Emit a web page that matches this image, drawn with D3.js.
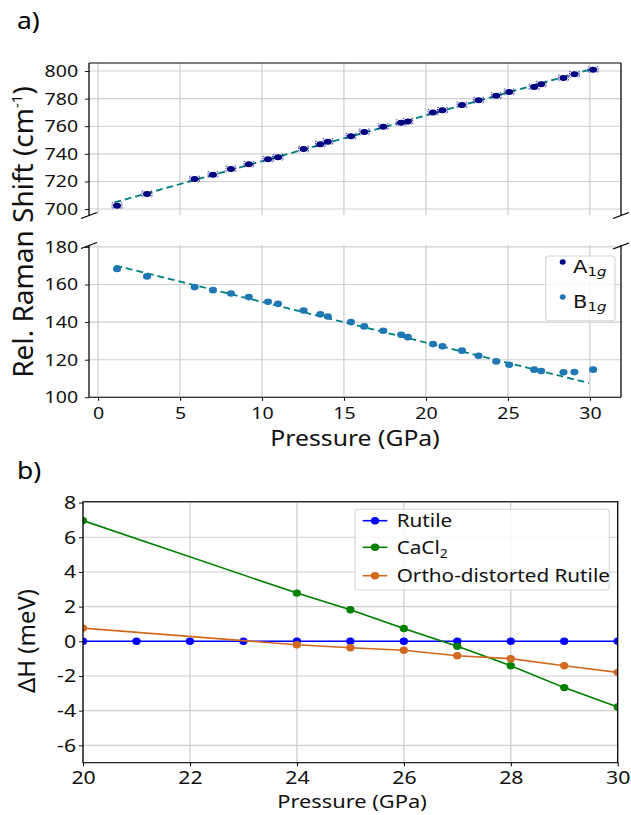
<!DOCTYPE html>
<html><head><meta charset="utf-8">
<script src="https://cdn.jsdelivr.net/npm/d3@7"></script>
<style>
body{margin:0;background:#fff}
svg{display:block}
</style>
</head><body><svg id="chart"></svg>
<script>
// panel a: Raman shifts vs pressure
const pressureA = [1.16, 2.99, 5.89, 7.01, 8.11, 9.2, 10.37, 10.98, 12.54, 13.56, 14.02, 15.43, 16.24, 17.4, 18.49, 18.9, 20.43, 21.01, 22.2, 23.21, 24.29, 25.08, 26.6, 27.03, 28.39, 29.06, 30.2];
const a1g = [702.4, 710.9, 721.7, 724.9, 729, 732.4, 736, 737.5, 743.5, 746.9, 748.8, 752.7, 755.8, 759.6, 762.5, 763.5, 770, 771.5, 775.4, 778.8, 782.1, 784.8, 788.4, 790.4, 794.9, 797.6, 800.9];
const b1g = [168.3, 164.3, 158.6, 157.0, 155.2, 153.3, 150.8, 149.7, 146.2, 144.2, 143.0, 140.0, 137.7, 135.4, 133.3, 132.0, 128.3, 127.1, 124.8, 122.1, 119.1, 117.3, 114.7, 114.0, 113.3, 113.4, 114.7];
const a1gErrP = 0.3;
// linear fits, endpoints
const a1gFitP = [1.0, 30.3], a1gFitV = [704.8, 802.0];
const b1gFitP = [1.06, 29.94], b1gFitV = [170.1, 107.6];
const ticksA_x = [0, 5, 10, 15, 20, 25, 30];
const ticksA_top = [700, 720, 740, 760, 780, 800];
const ticksA_bot = [100, 120, 140, 160, 180];

// panel b: enthalpy differences
const pressureB = [20, 21, 22, 23, 24, 25, 26, 27, 28, 29, 30];
const rutile = [0, 0, 0, 0, 0, 0, 0, 0, 0, 0, 0];
const pressureB2 = [20, 24, 25, 26, 27, 28, 29, 30];
const cacl2 = [6.96, 2.78, 1.82, 0.74, -0.29, -1.41, -2.67, -3.79];
const ortho = [0.76, -0.2, -0.37, -0.52, -0.83, -1.0, -1.41, -1.79];
const ticksB_x = [20, 22, 24, 26, 28, 30];
const ticksB_y = [-6, -4, -2, 0, 2, 4, 6, 8];

const W = 631, H = 815;
const SX = 1.15;   // picture is stretched sideways
const X = v => v / SX;
const FONT = "'Noto Sans', sans-serif";
const GRID = "#cfcfcf";

const svg = d3.select("#chart").attr("width", W).attr("height", H);
svg.append("rect").attr("width", W).attr("height", H).attr("fill", "#fff");
const g = svg.append("g").attr("transform", `scale(${SX},1)`);

function styleAxis(sel, size) {
	sel.select(".domain").remove();
	sel.selectAll(".tick line").attr("stroke", "#000").attr("stroke-width", 0.9);
	sel.selectAll(".tick text").attr("font-size", size).attr("font-family", FONT).attr("fill", "#111");
}

// ---------- panel a ----------
const xA = d3.scaleLinear().domain([-0.55, 31.9]).range([X(89), X(621)]);
const yTop = d3.scaleLinear().domain([695.7, 805.8]).range([215, 63]);
const yBot = d3.scaleLinear().domain([100, 181]).range([397.3, 245]);

g.append("text").attr("x", X(17)).attr("y", 29).attr("font-size", 23).attr("font-family", FONT).text("a)");

[[yTop, ticksA_top], [yBot, ticksA_bot]].forEach(([y, ticks]) => {
	const [b, t] = y.range();
	g.append("g").selectAll("line").data(ticksA_x).join("line")
		.attr("x1", d => xA(d)).attr("x2", d => xA(d)).attr("y1", t).attr("y2", b)
		.attr("stroke", GRID).attr("stroke-width", 1.1);
	g.append("g").selectAll("line").data(ticks).join("line")
		.attr("x1", xA.range()[0]).attr("x2", xA.range()[1]).attr("y1", d => y(d)).attr("y2", d => y(d))
		.attr("stroke", GRID).attr("stroke-width", 1.1);
});

// fits
g.append("path")
	.attr("d", d3.line()(a1gFitP.map((p, i) => [xA(p), yTop(a1gFitV[i])])))
	.attr("fill", "none").attr("stroke", "#008080").attr("stroke-width", 1.8).attr("stroke-dasharray", "6,3.5");
g.append("path")
	.attr("d", d3.line()(b1gFitP.map((p, i) => [xA(p), yBot(b1gFitV[i])])))
	.attr("fill", "none").attr("stroke", "#008080").attr("stroke-width", 1.8).attr("stroke-dasharray", "6,3.5");

// A1g error caps + points
g.append("g").selectAll("path").data(pressureA).join("path")
	.attr("d", (p, i) => {
		const y = yTop(a1g[i]), l = xA(p - a1gErrP), r = xA(p + a1gErrP);
		return `M${l + 1},${y - 3}H${l}V${y + 3}H${l + 1}M${r - 1},${y - 3}H${r}V${y + 3}H${r - 1}`;
	})
	.attr("fill", "none").attr("stroke", "#000080").attr("stroke-width", 0.7).attr("stroke-dasharray", "1.5,1");
g.append("g").selectAll("ellipse").data(pressureA).join("ellipse")
	.attr("cx", d => xA(d)).attr("cy", (d, i) => yTop(a1g[i]))
	.attr("rx", 3.5).attr("ry", 3.0).attr("fill", "#000080");
g.append("g").selectAll("ellipse").data(pressureA).join("ellipse")
	.attr("cx", d => xA(d)).attr("cy", (d, i) => yBot(b1g[i]))
	.attr("rx", 3.5).attr("ry", 3.3).attr("fill", "#1f77b4");

// axes a
g.append("g").attr("transform", `translate(${X(89)},0)`)
	.call(d3.axisLeft(yTop).tickValues(ticksA_top).tickSize(3.5).tickPadding(6))
	.call(s => styleAxis(s, 17));
g.append("g").attr("transform", `translate(${X(89)},0)`)
	.call(d3.axisLeft(yBot).tickValues(ticksA_bot).tickSize(3.5).tickPadding(6))
	.call(s => styleAxis(s, 17));
g.append("g").attr("transform", `translate(0,397.3)`)
	.call(d3.axisBottom(xA).tickValues(ticksA_x).tickSize(3.5).tickPadding(6.5))
	.call(s => styleAxis(s, 17));

// spines a
const spine = (x1, y1, x2, y2) => g.append("line")
	.attr("x1", x1).attr("y1", y1).attr("x2", x2).attr("y2", y2)
	.attr("stroke", "#000").attr("stroke-width", 1.1);
spine(X(89), 63, X(621), 63);
spine(X(89), 63, X(89), 215);
spine(X(621), 63, X(621), 215);
spine(X(89), 245, X(89), 397.3);
spine(X(621), 245, X(621), 397.3);
spine(X(89), 397.3, X(621), 397.3);
// break marks
[[89, 215.5], [621, 215.5], [89, 245.5], [621, 246]].forEach(([x, y]) =>
	g.append("line").attr("x1", X(x - 8)).attr("y1", y + 3).attr("x2", X(x + 8)).attr("y2", y - 3)
		.attr("stroke", "#000").attr("stroke-width", 1.3));

// labels a (rotated label kept outside the stretched group)
const yl = svg.append("text").attr("transform", `translate(33,232) rotate(-90)`)
	.attr("text-anchor", "middle").attr("font-size", 28).attr("font-family", FONT).attr("fill", "#111");
yl.append("tspan").text("Rel. Raman Shift (cm");
yl.append("tspan").attr("font-size", 15).attr("dy", -11).text("-1");
yl.append("tspan").attr("dy", 11).text(")");
g.append("text").attr("x", X(355)).attr("y", 446).attr("text-anchor", "middle")
	.attr("font-size", 21.5).attr("font-family", FONT).attr("fill", "#111").text("Pressure (GPa)");

// legend a
g.append("rect").attr("x", X(545.7)).attr("y", 256).attr("width", X(615) - X(545.7)).attr("height", 64.7)
	.attr("rx", 3).attr("fill", "#fff").attr("fill-opacity", 0.8).attr("stroke", "#d6d6d6");
[["A", "#000080", 262], ["B", "#1f77b4", 297]].forEach(([lab, col, y]) => {
	g.append("ellipse").attr("cx", X(562.7)).attr("cy", y).attr("rx", 2.6).attr("ry", 2.8).attr("fill", col);
	const t = g.append("text").attr("x", X(573)).attr("y", y + 11.5)
		.attr("font-family", "'DejaVu Sans', sans-serif").attr("font-size", 18.3).attr("fill", "#111");
	t.append("tspan").text(lab);
	t.append("tspan").attr("font-size", 13).attr("dy", 3).text("1");
	t.append("tspan").attr("font-size", 13).attr("font-style", "italic").text("g");
});

// ---------- panel b ----------
const xB = d3.scaleLinear().domain([20, 30]).range([X(83), X(617.7)]);
const yB = d3.scaleLinear().domain([-7, 8.05]).range([762.7, 501.7]);

g.append("text").attr("x", X(17)).attr("y", 479).attr("font-size", 23).attr("font-family", FONT).text("b)");

g.append("g").selectAll("line").data(ticksB_x).join("line")
	.attr("x1", d => xB(d)).attr("x2", d => xB(d)).attr("y1", 501.7).attr("y2", 762.7)
	.attr("stroke", GRID).attr("stroke-width", 1.1);
g.append("g").selectAll("line").data(ticksB_y).join("line")
	.attr("x1", X(83)).attr("x2", X(617.7)).attr("y1", d => yB(d)).attr("y2", d => yB(d))
	.attr("stroke", GRID).attr("stroke-width", 1.1);

g.append("clipPath").attr("id", "clipB").append("rect")
	.attr("x", X(83)).attr("y", 501.7).attr("width", X(617.7) - X(83)).attr("height", 261);
const plotB = g.append("g").attr("clip-path", "url(#clipB)");

const seriesB = [
	{ name: "Rutile", p: pressureB, v: rutile, color: "#0000ff" },
	{ name: "CaCl2", p: pressureB2, v: cacl2, color: "#008000" },
	{ name: "Ortho-distorted Rutile", p: pressureB2, v: ortho, color: "#d2691e" }
];
const lineB = d3.line().x(d => xB(d[0])).y(d => yB(d[1]));
seriesB.forEach(s => {
	const pts = s.p.map((p, i) => [p, s.v[i]]);
	plotB.append("path").attr("d", lineB(pts)).attr("fill", "none")
		.attr("stroke", s.color).attr("stroke-width", 1.6);
	plotB.append("g").selectAll("ellipse").data(pts).join("ellipse")
		.attr("cx", d => xB(d[0])).attr("cy", d => yB(d[1]))
		.attr("rx", 3.6).attr("ry", 3.7).attr("fill", s.color);
});

g.append("g").attr("transform", `translate(${X(83)},0)`)
	.call(d3.axisLeft(yB).tickValues(ticksB_y).tickFormat(d => String(d)).tickSize(3.5).tickPadding(2.5))
	.call(s => styleAxis(s, 18.5));
g.append("g").attr("transform", `translate(0,762.7)`)
	.call(d3.axisBottom(xB).tickValues(ticksB_x).tickSize(3.5).tickPadding(4.5))
	.call(s => styleAxis(s, 18.5));
g.append("rect").attr("x", X(83)).attr("y", 501.7).attr("width", X(617.7) - X(83)).attr("height", 261)
	.attr("fill", "none").attr("stroke", "#000").attr("stroke-width", 1.1);

svg.append("text").attr("transform", `translate(35,641) rotate(-90)`)
	.attr("text-anchor", "middle").attr("font-size", 24).attr("font-family", FONT).attr("fill", "#111")
	.text("ΔH (meV)");
g.append("text").attr("x", X(352)).attr("y", 808.5).attr("text-anchor", "middle")
	.attr("font-size", 19).attr("font-family", FONT).attr("fill", "#111").text("Pressure (GPa)");

// legend b
g.append("rect").attr("x", X(355)).attr("y", 509.3).attr("width", X(609.3) - X(355)).attr("height", 80.7)
	.attr("rx", 3).attr("fill", "#fff").attr("fill-opacity", 0.8).attr("stroke", "#d6d6d6");
const legY = [520.7, 547.3, 575.7];
seriesB.forEach((s, i) => {
	const y = legY[i];
	g.append("line").attr("x1", X(362.7)).attr("x2", X(387.3)).attr("y1", y).attr("y2", y)
		.attr("stroke", s.color).attr("stroke-width", 1.6);
	g.append("ellipse").attr("cx", X(375)).attr("cy", y).attr("rx", 3.6).attr("ry", 3.7).attr("fill", s.color);
	const t = g.append("text").attr("x", X(396.7)).attr("y", y + 6.5)
		.attr("font-size", 18).attr("font-family", FONT).attr("fill", "#111");
	if (s.name === "CaCl2") {
		t.append("tspan").text("CaCl");
		t.append("tspan").attr("font-size", 12).attr("dy", 4).text("2");
	} else t.text(s.name);
});
</script>
</body></html>
